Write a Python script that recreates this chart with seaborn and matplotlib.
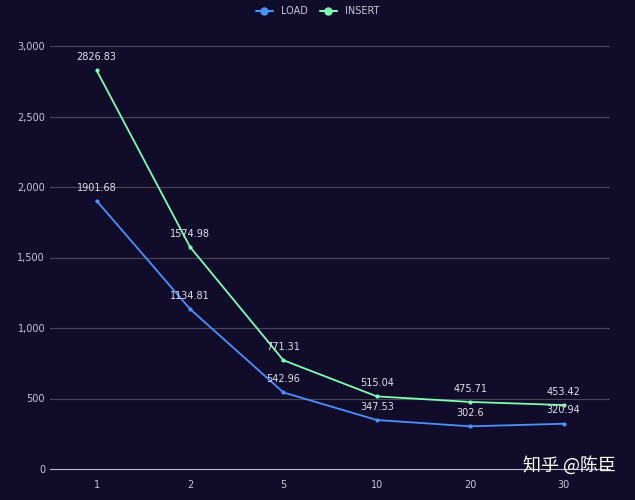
import matplotlib
matplotlib.use("Agg")
import pandas as pd
import seaborn as sns
from matplotlib import pyplot as plt

categories = ["1", "2", "5", "10", "20", "30"]
load_values = [1901.68, 1134.81, 542.96, 347.53, 302.6, 320.94]
insert_values = [2826.83, 1574.98, 771.31, 515.04, 475.71, 453.42]

bg = "#100c2a"
text_color = "#c8c7d8"
grid_color = "#484753"
load_color = "#4992ff"
insert_color = "#7cffb2"

sns.set_style("dark")
plt.rcParams["font.family"] = ["DejaVu Sans", "Noto Sans CJK SC"]

data = pd.DataFrame({
    "x": list(range(len(categories))) * 2,
    "value": load_values + insert_values,
    "series": ["LOAD"] * len(categories) + ["INSERT"] * len(categories),
})

fig = plt.figure(figsize=(6.35, 5), dpi=100, facecolor=bg)
ax = fig.add_axes([0.0787, 0.062, 0.8823, 0.846])
ax.set_facecolor(bg)

sns.lineplot(data=data, x="x", y="value", hue="series",
             palette={"LOAD": load_color, "INSERT": insert_color},
             marker="o", markersize=3, markeredgewidth=0, linewidth=1.3,
             ax=ax, legend=False)

for vals in (load_values, insert_values):
    for i, v in enumerate(vals):
        ax.annotate(f"{v:g}", (i, v), xytext=(0, 6), textcoords="offset points",
                    ha="center", va="bottom", fontsize=7, color="#e0e0ea")

ax.set_xlim(-0.5, len(categories) - 0.5)
ax.set_ylim(0, 3000)
ax.set_yticks(range(0, 3001, 500))
ax.set_yticklabels([f"{t:,}" for t in range(0, 3001, 500)])
ax.set_xticks(range(len(categories)))
ax.set_xticklabels(categories)
ax.set_xticks([i - 0.5 for i in range(len(categories) + 1)], minor=True)
ax.tick_params(axis="x", which="major", length=0, colors=text_color, labelsize=7, pad=8)
ax.tick_params(axis="x", which="minor", length=4, color="#b9b8ce")
ax.tick_params(axis="y", length=0, colors=text_color, labelsize=7)
ax.grid(axis="y", color=grid_color, linewidth=0.8)
ax.grid(axis="x", visible=False)
ax.set_xlabel("")
ax.set_ylabel("")
for side in ("top", "right", "left"):
    ax.spines[side].set_visible(False)
ax.spines["bottom"].set_color("#b9b8ce")

handles = [plt.Line2D([], [], color=load_color, marker="o", markersize=5, linewidth=1.5),
           plt.Line2D([], [], color=insert_color, marker="o", markersize=5, linewidth=1.5)]
fig.legend(handles, ["LOAD", "INSERT"], loc="upper center", ncol=2, frameon=False,
           fontsize=7, labelcolor=text_color, bbox_to_anchor=(0.5, 1.005),
           handlelength=1.8, columnspacing=1.2)

fig.text(0.97, 0.05, "知乎 @陈臣", ha="right", va="bottom", fontsize=13,
         color="white", family=["Noto Sans CJK SC", "DejaVu Sans"])

fig.savefig("out.png", facecolor=bg)
